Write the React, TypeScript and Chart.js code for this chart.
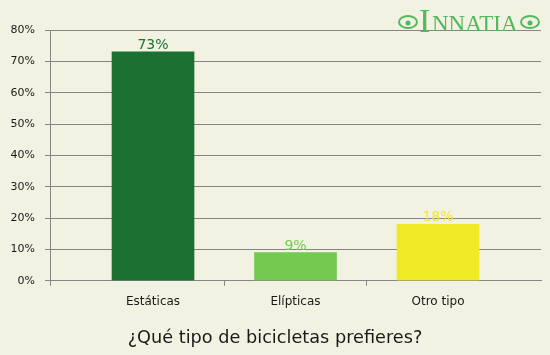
import React, { useEffect, useRef } from "react";
import { Chart, registerables } from "chart.js";

Chart.register(...registerables);

const categories = ["Estáticas", "Elípticas", "Otro tipo"];
const values = [73, 9, 18];
const barColors = ["#1b7131", "#74c950", "#f0e926"];
const yTicks = [0, 10, 20, 30, 40, 50, 60, 70, 80];
const titleText = "¿Qué tipo de bicicletas prefieres?";
const logoText = "INNATIA";

const BG = "#f2f2e2";
const GRID = "#858585";
const FONT = "'DejaVu Sans', Verdana, sans-serif";

const X_MIN = -0.723;
const X_MAX = categories.length - 1 + 0.723;

const bgPlugin = {
  id: "bgPlugin",
  beforeDraw(chart: any) {
    const ctx = chart.ctx;
    ctx.save();
    ctx.fillStyle = BG;
    ctx.fillRect(0, 0, chart.width, chart.height);
    ctx.restore();
  },
};

const labelPlugin = {
  id: "labelPlugin",
  afterDatasetsDraw(chart: any) {
    const ctx = chart.ctx;
    const meta = chart.getDatasetMeta(0);
    ctx.save();
    ctx.font = `14px ${FONT}`;
    ctx.textAlign = "center";
    ctx.textBaseline = "alphabetic";
    meta.data.forEach((bar: any, i: number) => {
      ctx.fillStyle = barColors[i];
      ctx.fillText(values[i] + "%", bar.x, bar.y - 3);
    });
    ctx.restore();
  },
};

const logoPlugin = {
  id: "logoPlugin",
  afterDraw(chart: any) {
    const ctx = chart.ctx;
    const green = "#52b85c";
    ctx.save();
    ctx.fillStyle = green;
    ctx.strokeStyle = green;
    ctx.textBaseline = "alphabetic";
    ctx.textAlign = "left";
    ctx.font = `34px 'Liberation Serif', 'DejaVu Serif', serif`;
    ctx.fillText(logoText[0], 419, 32);
    ctx.font = `23px 'Liberation Serif', 'DejaVu Serif', serif`;
    ctx.fillText(logoText.slice(1), 432, 31);
    ctx.lineWidth = 2;
    [408, 530].forEach((cx) => {
      ctx.beginPath();
      ctx.ellipse(cx, 22, 9, 6, 0, 0, Math.PI * 2);
      ctx.stroke();
      ctx.beginPath();
      ctx.arc(cx, 23, 2.5, 0, Math.PI * 2);
      ctx.fill();
    });
    ctx.restore();
  },
};

export default function App() {
  const ref = useRef<HTMLCanvasElement>(null);

  useEffect(() => {
    document.body.style.margin = "0";
    document.body.style.background = BG;
    if (!ref.current) return;
    const chart = new Chart(ref.current, {
      type: "bar",
      data: {
        datasets: [
          {
            data: values.map((v, i) => ({ x: i, y: v })),
            backgroundColor: barColors,
            borderWidth: 0,
            barThickness: 82,
          },
        ],
      },
      options: {
        animation: false,
        responsive: false,
        devicePixelRatio: 1,
        layout: { padding: { top: 30, right: 0, bottom: 6, left: 0 } },
        plugins: {
          legend: { display: false },
          tooltip: { enabled: false },
          title: {
            display: true,
            position: "bottom",
            text: titleText,
            color: "#1a1a1a",
            font: { family: FONT, size: 17.7, weight: "normal", lineHeight: 1.2 },
            padding: { top: 0, bottom: 0 },
          },
        },
        scales: {
          x: {
            type: "linear",
            min: X_MIN,
            max: X_MAX,
            offset: false,
            afterBuildTicks(scale: any) {
              const t: any[] = [{ value: X_MIN }];
              categories.forEach((_, i) => {
                t.push({ value: i });
                if (i < categories.length - 1) t.push({ value: i + 0.5 });
              });
              scale.ticks = t;
            },
            afterFit(scale: any) {
              scale.height = 47;
            },
            ticks: {
              autoSkip: false,
              maxRotation: 0,
              padding: 9,
              color: "#1a1a1a",
              font: { family: FONT, size: 12 },
              callback: (v: any) =>
                Number.isInteger(v) && v >= 0 && v < categories.length
                  ? categories[v]
                  : "",
            },
            grid: {
              offset: false,
              drawOnChartArea: false,
              drawTicks: true,
              tickLength: 5,
              color: (ctx: any) =>
                ctx.tick && Number.isInteger(ctx.tick.value) ? "rgba(0,0,0,0)" : GRID,
            },
            border: { display: true, color: GRID },
          },
          y: {
            min: 0,
            max: 80,
            afterBuildTicks(scale: any) {
              scale.ticks = yTicks.map((v) => ({ value: v }));
            },
            afterFit(scale: any) {
              scale.width = 50;
            },
            ticks: {
              padding: 10,
              color: "#1a1a1a",
              font: { family: FONT, size: 11 },
              callback: (v: any) => v + "%",
            },
            grid: {
              color: GRID,
              tickLength: 5,
              drawTicks: true,
            },
            border: { display: true, color: GRID },
          },
          yRight: {
            position: "right",
            display: true,
            min: 0,
            max: 80,
            afterFit(scale: any) {
              scale.width = 9;
            },
            ticks: { display: false },
            grid: { display: false, drawTicks: false },
            border: { display: false },
          },
        },
      },
      plugins: [bgPlugin, labelPlugin, logoPlugin],
    } as any);
    return () => chart.destroy();
  }, []);

  return (
    <div style={{ width: 550, height: 355, background: BG }}>
      <canvas ref={ref} width={550} height={355} style={{ display: "block" }} />
    </div>
  );
}
